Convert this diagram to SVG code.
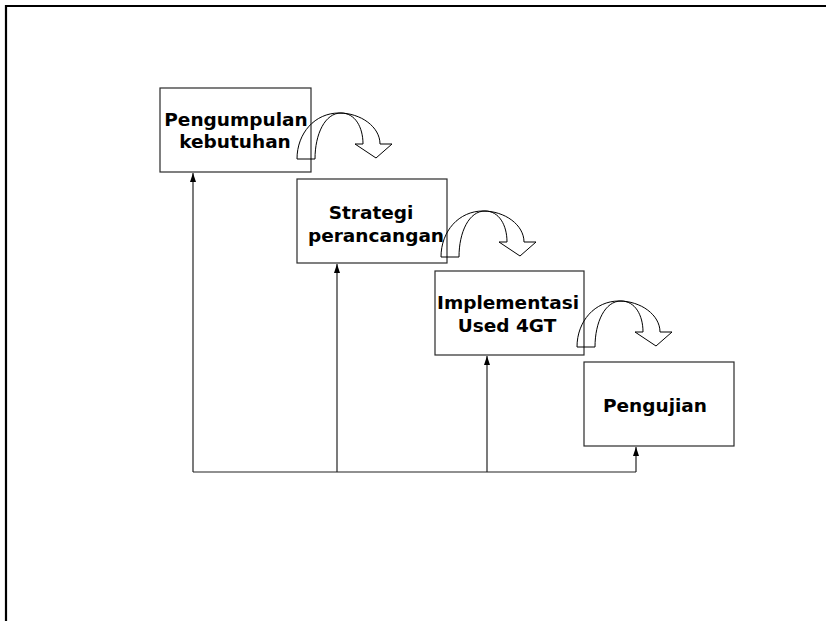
<svg xmlns="http://www.w3.org/2000/svg" width="826" height="621" viewBox="0 0 826 621">
  <style>
    .box { fill: #ffffff; stroke: #2a2a2a; stroke-width: 1.2; }
    .lbl { font-family: "DejaVu Sans", Verdana, sans-serif; font-weight: bold; font-size: 18.5px; fill: #000; text-anchor: middle; }
    .link { fill: none; stroke: #222; stroke-width: 1.2; }
    .turn { fill: none; stroke: #000; stroke-width: 1; stroke-linejoin: miter; }
    .frame { fill: none; stroke: #000; stroke-width: 2.2; }
  </style>
  <defs>
    <marker id="tip" viewBox="0 0 9 6" refX="9" refY="3" markerWidth="9" markerHeight="6" markerUnits="userSpaceOnUse" orient="auto">
      <path d="M0,0 L9,3 L0,6 Z" fill="#000"/>
    </marker>
    <!-- U-turn block arrow, origin at outer lower-left corner -->
    <path id="uturn" class="turn" d="M0,0 C0,-26 18,-46 42,-46 C64,-46 83,-32 83,-15 L95,-15 L79,-1 L58,-15 L66,-15 C66,-32 58,-46 44,-46 C28,-46 18,-25 18,0 Z"/>
  </defs>

  <!-- page frame -->
  <path class="frame" d="M6,621 L6,6 L826,6"/>

  <g id="node-pengumpulan">
    <rect class="box" x="160" y="88" width="151" height="84"/>
    <text class="lbl" x="236" y="126">Pengumpulan</text>
    <text class="lbl" x="235" y="148">kebutuhan</text>
  </g>

  <g id="node-strategi">
    <rect class="box" x="297" y="179" width="150" height="84"/>
    <text class="lbl" x="371" y="219">Strategi</text>
    <text class="lbl" x="376" y="242">perancangan</text>
  </g>

  <g id="node-implementasi">
    <rect class="box" x="435" y="271" width="149" height="84"/>
    <text class="lbl" x="508" y="309">Implementasi</text>
    <text class="lbl" x="507" y="332">Used 4GT</text>
  </g>

  <g id="node-pengujian">
    <rect class="box" x="584" y="362" width="150" height="84"/>
    <text class="lbl" x="655" y="412">Pengujian</text>
  </g>

  <g id="connectors">
    <!-- step-to-step turning arrows -->
    <use href="#uturn" x="297" y="159"/>
    <use href="#uturn" x="441" y="257"/>
    <use href="#uturn" x="577" y="347"/>
    <!-- feedback bus -->
    <path class="link" d="M193,472 L636,472"/>
    <path class="link" d="M193,472 L193,173" marker-end="url(#tip)"/>
    <path class="link" d="M337,472 L337,264" marker-end="url(#tip)"/>
    <path class="link" d="M487,472 L487,356" marker-end="url(#tip)"/>
    <path class="link" d="M636,472 L636,447" marker-end="url(#tip)"/>
  </g>
</svg>
